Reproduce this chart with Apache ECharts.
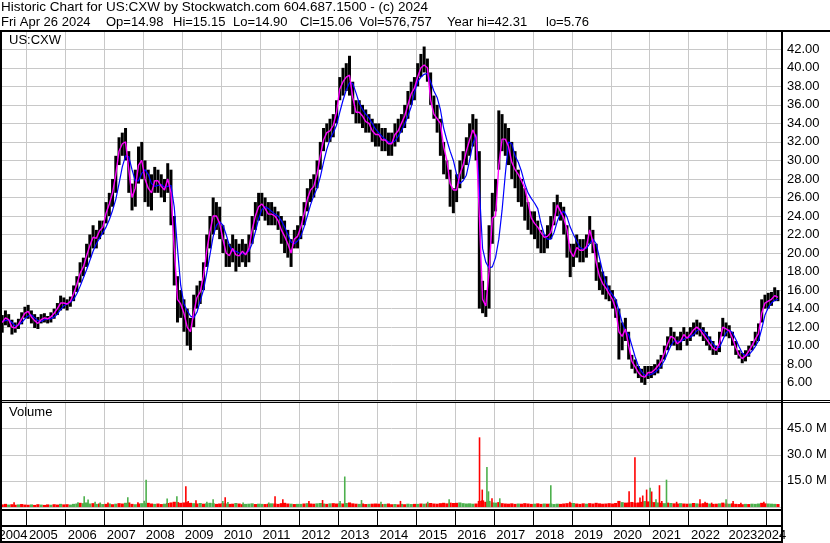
<!DOCTYPE html>
<html><head><meta charset="utf-8">
<script src="https://cdn.jsdelivr.net/npm/echarts@6/dist/echarts.min.js"></script>
<style>html,body{margin:0;padding:0;background:#fff}#c{width:830px;height:543px}</style>
</head><body><div id="c"></div>
<script>
// ---- DATA (monthly, May 2004 .. Apr 2024) ----
const startYear = 2004, startMonth = 5;
const high = [
 13.3,13.8,13.4,12.8,12.5,12.9,13.6,14.2,
 14.4,13.8,13.4,13.1,13.4,13.5,13.2,13.6,14.0,14.6,15.4,15.2,
 15.0,15.3,16.5,17.5,19.0,19.5,21.0,22.0,23.0,22.5,23.5,23.5,
 25.5,26.5,28.0,30.5,32.5,33.0,33.5,31.0,27.5,29.0,31.5,32.0,
 30.0,29.0,28.5,29.3,29.0,28.5,28.0,29.7,29.0,24.0,17.5,16.0,
 15.0,14.0,13.0,15.5,16.5,17.0,19.0,22.0,24.0,26.0,25.5,25.0,
 23.0,21.5,21.0,22.0,21.5,21.0,21.5,21.0,22.0,24.0,25.5,26.5,
 26.5,26.0,25.5,25.5,25.0,24.5,24.0,23.5,22.5,21.5,22.5,23.0,
 24.0,25.5,27.0,28.0,28.5,30.0,32.0,33.5,34.0,34.5,35.0,36.5,
 39.0,40.0,40.5,41.3,38.5,36.5,36.5,36.0,35.5,35.0,34.5,34.0,
 34.0,33.5,33.5,33.0,33.0,34.0,34.5,35.0,36.0,37.5,38.5,39.0,
 40.5,41.5,42.3,41.0,39.5,37.0,36.0,34.5,32.0,30.0,29.0,27.0,
 28.5,30.0,31.0,32.5,34.0,35.0,34.5,31.0,17.0,16.0,23.0,26.5,
 28.0,35.4,35.0,34.0,33.5,32.0,31.0,29.0,28.0,27.0,25.5,24.5,
 24.5,23.5,22.5,22.0,23.0,24.0,25.5,26.3,25.5,25.0,23.0,21.0,
 21.0,22.0,21.5,21.5,22.0,24.0,22.5,21.0,19.0,18.0,17.5,16.5,
 16.0,15.0,14.0,12.5,13.0,11.5,9.0,8.5,7.8,7.5,7.8,7.8,
 7.8,8.0,8.5,9.0,10.0,11.0,12.0,11.5,11.0,11.5,12.0,11.5,
 12.0,12.5,12.8,12.5,12.0,11.5,11.0,10.5,10.0,11.5,13.0,12.5,
 12.2,11.5,10.5,9.5,9.2,9.5,10.0,10.5,11.5,12.4,15.0,15.5,
 15.7,15.8,16.3,16.0];
const low = [
 11.4,12.2,12.0,11.2,11.4,11.8,12.3,13.0,
 12.9,12.4,11.9,11.8,12.4,12.5,12.4,12.5,12.9,13.3,13.8,14.0,
 13.8,14.2,14.8,15.8,16.8,17.5,18.5,19.5,20.5,20.5,21.5,22.0,
 23.2,24.0,25.0,26.5,29.5,30.5,30.0,26.5,24.6,25.0,27.5,28.0,
 25.5,25.0,24.6,26.5,26.5,26.0,25.5,26.5,23.0,16.5,12.5,13.0,
 11.5,10.0,9.5,12.0,14.0,14.5,16.0,18.5,20.5,22.0,22.5,21.5,
 20.0,18.5,18.5,19.0,18.0,18.5,19.0,18.5,19.0,21.0,22.5,23.5,
 24.0,23.5,23.0,23.0,23.0,22.5,21.0,20.0,19.5,18.5,20.5,20.5,
 21.5,23.0,24.5,25.5,26.0,27.0,29.0,31.0,32.0,32.0,32.5,34.0,
 36.5,37.0,37.5,37.0,35.0,34.0,34.0,33.5,33.0,33.0,32.0,31.5,
 31.5,31.0,31.0,30.5,30.5,31.5,32.0,33.0,33.5,34.5,36.0,36.5,
 38.0,39.0,39.5,38.5,36.0,34.5,33.0,30.5,28.5,28.0,25.0,24.3,
 25.5,27.0,28.0,29.5,30.5,31.5,30.0,14.0,13.5,13.1,14.0,21.0,
 24.5,29.0,31.0,30.5,29.5,28.0,27.0,25.5,25.0,23.5,22.5,22.0,
 21.5,20.5,20.0,20.0,20.5,21.5,23.0,24.0,23.5,22.0,19.5,17.4,
 18.5,19.5,19.0,19.0,19.5,21.0,20.0,17.0,16.0,15.5,15.0,14.8,
 14.0,13.0,8.5,9.5,10.5,8.5,7.5,7.0,6.5,6.0,5.76,6.4,
 6.5,6.8,7.0,7.5,8.5,9.5,10.0,10.0,9.5,9.5,10.5,10.0,
 10.5,11.0,11.2,11.0,10.5,10.0,9.5,9.0,9.0,9.3,11.0,11.0,
 10.8,10.0,9.0,8.6,8.1,8.3,8.8,9.5,10.0,10.5,12.5,14.0,
 14.0,14.3,14.8,14.8];
const maShort = [
 12.5,13.0,12.8,12.0,11.9,12.3,12.9,13.5,
 13.7,13.1,12.7,12.4,12.8,13.0,12.9,13.1,13.5,14.0,14.6,14.6,
 14.5,14.8,15.6,16.6,17.8,18.5,19.7,20.8,21.7,21.6,22.4,22.8,
 24.3,25.3,26.5,28.5,31.0,31.8,32.0,29.0,26.0,27.0,29.5,30.0,
 28.0,27.0,26.5,27.8,27.8,27.2,26.8,28.0,26.5,20.5,15.0,14.5,
 13.5,12.0,11.5,13.5,15.2,15.8,17.5,20.2,22.3,24.0,24.0,23.2,
 21.5,20.0,19.7,20.5,19.8,19.7,20.2,19.8,20.5,22.5,24.0,25.0,
 25.3,24.8,24.2,24.2,24.0,23.5,22.5,21.8,21.0,20.0,21.5,21.8,
 22.8,24.2,25.8,26.8,27.2,28.5,30.5,32.2,33.0,33.2,33.8,35.2,
 37.7,38.5,39.0,39.2,36.8,35.2,35.2,34.8,34.2,34.0,33.2,32.8,
 32.8,32.2,32.2,31.8,31.8,32.8,33.2,34.0,34.8,36.0,37.2,37.8,
 39.0,40.0,40.3,40.0,36.5,35.0,34.5,34.0,31.5,30.0,27.5,26.8,
 26.8,28.5,29.5,31.0,32.2,33.3,32.5,24.0,15.0,14.3,18.0,23.8,
 24.0,29.5,32.3,32.3,31.5,29.8,29.0,28.5,27.8,27.0,25.5,23.8,
 23.2,22.8,22.2,21.7,21.8,22.2,23.5,25.2,24.5,23.8,22.5,20.2,
 19.6,20.6,20.3,20.3,20.7,22.5,21.2,19.0,17.5,16.7,16.2,15.6,
 15.0,14.0,11.5,11.0,11.8,10.0,8.3,7.7,7.1,6.7,6.6,7.1,
 7.1,7.4,7.8,8.3,9.2,10.2,11.0,10.8,10.2,10.5,11.2,10.8,
 11.2,11.7,12.0,11.7,11.2,10.7,10.2,9.7,9.5,10.3,12.0,11.8,
 11.6,10.8,9.8,9.0,8.6,8.9,9.4,10.0,10.7,11.3,13.5,14.6,
 14.8,15.0,15.4,15.2];
const maLong = [
 12.6,12.7,12.8,12.5,12.1,12.2,12.5,12.9,
 13.2,13.3,13.0,12.7,12.6,12.8,12.9,12.9,13.1,13.4,13.9,14.3,
 14.5,14.7,15.0,15.6,16.4,17.3,18.2,19.2,20.2,21.0,21.6,22.2,
 22.8,23.6,24.6,25.8,27.5,29.3,30.5,30.4,29.0,27.8,27.8,28.6,
 29.0,28.5,27.5,27.2,27.3,27.4,27.1,27.2,27.3,25.0,20.5,16.5,
 14.5,13.8,13.2,13.0,13.6,14.8,16.0,17.8,19.8,21.8,23.0,23.4,
 23.0,22.0,20.8,20.2,20.2,20.0,19.9,20.0,20.2,21.0,22.3,23.7,
 24.7,25.0,24.8,24.5,24.2,24.0,23.5,22.8,22.0,21.2,21.0,21.3,
 21.8,22.8,24.0,25.2,26.2,27.0,28.2,29.8,31.2,32.3,33.0,33.8,
 35.2,36.5,37.6,38.4,38.3,37.3,36.2,35.5,35.0,34.6,34.0,33.4,
 33.0,32.6,32.3,32.0,31.9,32.1,32.6,33.2,33.9,34.8,35.8,37.3,
 38.5,39.0,39.3,39.4,38.5,37.5,36.8,35.5,33.5,32.2,31.0,30.0,
 28.5,27.5,27.8,28.4,30.0,31.8,32.8,27.0,20.5,19.0,18.4,18.5,
 19.5,21.5,24.6,28.5,32.0,31.8,30.5,29.8,28.8,27.5,26.5,25.9,
 25.4,24.8,23.2,22.0,21.5,21.5,22.2,23.4,24.3,24.5,23.9,22.8,
 22.0,21.3,20.6,20.4,20.5,21.0,21.5,21.0,19.5,18.0,16.8,16.0,
 15.5,15.0,13.8,12.5,11.6,11.2,10.0,8.8,7.8,7.2,6.8,6.8,
 6.9,7.1,7.4,7.8,8.4,9.2,10.0,10.5,10.5,10.4,10.7,10.9,
 10.9,11.2,11.6,11.8,11.6,11.2,10.7,10.2,9.8,9.8,10.6,11.4,
 11.7,11.4,10.7,9.9,9.2,8.9,9.0,9.4,9.9,10.5,11.8,13.3,
 14.1,14.6,14.9,15.0];
// volume in millions, monthly baseline
const volume = [
 1.5,1.8,1.4,1.6,1.3,1.5,1.7,1.4,
 1.3,1.5,1.2,1.6,1.4,1.2,1.5,1.3,1.6,1.4,1.8,1.5,
 1.6,1.4,1.8,2.0,2.4,2.2,2.6,2.0,2.2,1.8,2.0,1.7,
 1.8,2.0,1.6,1.9,2.2,2.0,2.4,2.6,1.8,1.6,2.0,2.2,
 2.2,2.4,2.0,1.8,2.0,1.7,1.9,2.3,2.6,3.0,2.8,2.4,
 2.6,2.8,2.4,2.2,2.0,2.3,1.9,2.1,2.4,2.2,1.8,2.0,
 2.2,2.0,1.8,1.9,2.3,2.0,1.6,1.8,1.9,2.1,1.7,1.9,
 1.8,1.7,1.9,2.1,2.0,1.8,2.2,2.4,2.0,1.9,1.7,1.8,
 1.8,2.0,2.2,2.0,1.9,2.1,2.3,2.0,1.8,2.1,2.2,2.0,
 2.2,2.0,2.3,2.6,2.1,1.9,1.8,2.0,1.7,1.8,1.9,2.0,
 1.9,1.7,1.8,2.0,1.6,1.7,1.5,1.8,1.6,1.9,1.7,1.8,
 1.8,2.0,1.9,2.1,2.3,2.0,1.9,2.2,2.4,2.1,2.5,2.3,
 2.4,2.6,2.2,2.0,2.1,1.9,2.0,3.5,3.8,3.0,3.5,2.6,
 2.5,2.8,2.2,2.0,1.9,2.1,1.8,2.0,1.9,2.2,2.0,1.8,
 1.9,2.1,1.8,2.0,1.9,2.0,1.7,1.9,1.8,2.0,2.2,2.4,
 2.3,2.0,1.8,2.1,1.9,2.2,2.0,2.4,2.1,1.9,2.0,2.2,
 2.0,2.3,3.5,2.8,2.5,2.6,2.9,2.4,2.6,3.0,3.4,3.2,
 3.0,2.8,2.6,2.4,2.2,2.5,2.3,2.1,2.0,2.2,2.0,1.9,
 2.0,2.3,2.1,1.9,2.2,2.4,2.0,1.8,1.9,2.1,2.5,2.0,
 1.9,2.1,1.8,1.7,1.6,1.8,1.7,1.9,1.8,2.0,2.4,2.1,
 2.0,1.9,1.8,1.7];
const volumeUp =
 "rrgrrgrr"+"rgrrgrrgrrgr"+"rgggrgggrgrg"+"rgrgrrgrrgrg"+"grrgrrgrrrrr"+
 "rrrgrgrgggrr"+"rgrrgrrgggrg"+"grrgrrrrrgrg"+"grgrrgggrgrr"+"grgrrrgrrgrr"+
 "rrgrrgrgrggr"+"grgrrrrrrrrr"+"rgggggrrrrgg"+"grrrrrrgrrrr"+"grrgrgggrrrr"+
 "grrrgrrrrrrr"+"rrrgrrrrrrgr"+"grgrgrgrrgrr"+"grgrrrgrrgrr"+"grrrrgrgggrr"+"gggr";
// single-day volume spikes (fractional year, millions, up/down)
const spikeDates = [2004.68,2006.32,2006.48,2006.58,2006.76,2006.89,2007.09,2007.60,2007.86,2008.02,
 2008.07,2008.61,2008.79,2008.86,2009.09,2009.15,2009.35,2009.63,2009.79,2010.04,2010.10,2010.17,
 2010.56,2011.22,2011.38,2011.58,2012.25,2012.60,2013.05,2013.17,2013.60,2014.10,2014.60,2015.30,
 2015.85,2016.63,2016.70,2016.82,2016.86,2016.95,2017.15,2018.46,2018.95,2020.47,2020.62,2020.75,
 2020.82,2020.92,2021.01,2021.05,2021.16,2021.25,2021.31,2021.43,2021.69,2022.29,2022.42,2022.59,
 2022.96,2023.14,2023.34,2023.93];
const spikeValues = [2.7,2.7,6.2,4.3,3.0,2.6,2.6,5.6,2.7,3.6,
 15.7,4.9,2.6,6.2,11.9,3.4,3.9,3.0,4.4,3.5,5.6,2.8,
 2.6,2.6,6.2,4.4,3.5,4.0,3.5,17.5,4.0,3.0,3.5,3.0,
 4.5,40.0,10.0,23.0,9.0,5.0,5.0,12.5,3.0,9.0,28.5,5.4,
 6.6,10.0,11.0,8.9,4.5,12.5,3.4,15.7,3.0,4.4,3.0,2.5,
 4.4,3.4,2.5,3.0];
const spikeUp = "rgggggrgrgg"+"grgrrrgggrgg"+"grrrrggggrg"+"grrggrggrrr"+"rrrgrgrrgr"+"rrrg";
const yearTicks = [2005,2006,2007,2008,2009,2010,2011,2012,2013,2014,2015,2016,2017,2018,2019,2020,2021,2022,2023,2024];
const yearLabels = ['2004','2005','2006','2007','2008','2009','2010','2011','2012','2013','2014',
 '2015','2016','2017','2018','2019','2020','2021','2022','2023','2024'];
const titleLine1 = 'Historic Chart for US:CXW by Stockwatch.com 604.687.1500 - (c) 2024';
const quoteFields = ['Fri Apr 26 2024','Op=14.98','Hi=15.15','Lo=14.90','Cl=15.06','Vol=576,757','Year hi=42.31','lo=5.76'];
const symbolName = 'US:CXW';

// ---- BUILD ----
const FONT = '"Liberation Sans", Arial, sans-serif';
const RED = '#ff0000', GREEN = '#4db04d', GRID = '#c8c8c8';
const monthT = i => startYear + (startMonth - 1 + i + 0.5) / 12;
const barData = high.map((h, i) => [monthT(i), h, low[i]]);
const maS = maShort.map((v, i) => [monthT(i), v]);
const maL = maLong.map((v, i) => [monthT(i), v]);
const volData = volume.map((v, i) => [monthT(i), v, volumeUp[i] === 'g' ? 1 : 0]);
const spkData = spikeDates.map((t, i) => [t, spikeValues[i], spikeUp[i] === 'g' ? 1 : 0]);
const X0 = 2004.37, X1 = 2024.37;
const gl = 2, gr = 49;

function hl(params, api) {
  const a = api.coord([api.value(0), api.value(1)]);
  const b = api.coord([api.value(0), api.value(2)]);
  return { type: 'rect', shape: { x: a[0] - 1.5, y: a[1], width: 3.0, height: Math.max(1, b[1] - a[1]) },
    style: { fill: '#000' } };
}
function vol(w) {
  return (params, api) => {
    const a = api.coord([api.value(0), api.value(1)]);
    const b = api.coord([api.value(0), 0]);
    return { type: 'rect', shape: { x: a[0] - w / 2, y: a[1], width: w, height: b[1] - a[1] },
      style: { fill: api.value(2) ? GREEN : RED } };
  };
}
const baseX = (gi, color) => ({
  type: 'value', gridIndex: gi, min: X0, max: X1,
  axisLine: { show: false }, axisTick: { show: false, customValues: yearTicks }, axisLabel: { show: false },
  splitLine: { show: true, lineStyle: { color: color, width: 1 } }
});
const rect = (x, y, w, h) => ({ type: 'rect', shape: { x, y, width: w, height: h }, style: { fill: '#000' }, silent: true, z: 100 });
const txt = (s, x, y, size) => ({ type: 'text', x, y, silent: true, z: 101,
  style: { text: s, fill: '#000', fontSize: size || 13, fontFamily: FONT, verticalAlign: 'top', align: 'left' } });

const chart = echarts.init(document.getElementById('c'), null, { renderer: 'canvas' });
chart.setOption({
  animation: false,
  backgroundColor: '#fff',
  grid: [
    { left: gl, right: gr, top: 30.78, bottom: 141.8 },
    { left: gl, right: gr, top: 402.5, bottom: 36 },
    { left: gl, right: gr, top: 510, bottom: 18 }
  ],
  xAxis: [ baseX(0, GRID), baseX(1, GRID), baseX(2, '#000') ],
  yAxis: [
    { type: 'value', gridIndex: 0, position: 'right', min: 4, max: 44, interval: 2,
      axisLine: { show: false }, axisTick: { show: false },
      splitLine: { show: true, lineStyle: { color: GRID, width: 1 } },
      axisLabel: { margin: 6, fontSize: 13, color: '#000', fontFamily: FONT,
        formatter: v => (v < 5 || v > 43) ? '' : v.toFixed(2) } },
    { type: 'value', gridIndex: 1, position: 'right', min: 0, max: 60, interval: 15,
      axisLine: { show: false }, axisTick: { show: false },
      splitLine: { show: true, lineStyle: { color: GRID, width: 1 } },
      axisLabel: { margin: 6, fontSize: 13, color: '#000', fontFamily: FONT,
        formatter: v => (v === 0 || v === 60) ? '' : v.toFixed(1) + ' M' } },
    { type: 'value', gridIndex: 2, min: 0, max: 1, show: false, splitLine: { show: false } }
  ],
  series: [
    { type: 'custom', xAxisIndex: 0, yAxisIndex: 0, renderItem: hl, data: barData, encode: { x: 0, y: [1, 2] }, z: 2 },
    { type: 'line', xAxisIndex: 0, yAxisIndex: 0, data: maL, showSymbol: false, symbol: 'none',
      lineStyle: { color: '#0000ff', width: 1.2 }, z: 3 },
    { type: 'line', xAxisIndex: 0, yAxisIndex: 0, data: maS, showSymbol: false, symbol: 'none',
      lineStyle: { color: '#ff00ff', width: 1.4 }, z: 4 },
    { type: 'custom', xAxisIndex: 1, yAxisIndex: 1, renderItem: vol(3.2), data: volData, encode: { x: 0, y: 1 }, z: 2 },
    { type: 'custom', xAxisIndex: 1, yAxisIndex: 1, renderItem: vol(1.6), data: spkData, encode: { x: 0, y: 1 }, z: 3 }
  ]
});

// header texts, labels and frame lines
const quoteX = [1, 106, 173, 233, 300, 359, 447, 546];
const g = [
  rect(0, 30, 830, 2), rect(0, 30, 2, 513), rect(781, 30, 2, 513),
  rect(0, 400, 830, 1), rect(0, 402, 830, 1),
  rect(0, 509, 783, 2), rect(0, 525, 783, 2), rect(0, 541, 783, 2),
  txt(titleLine1, 1, 0, 13.5),
  txt(symbolName, 9, 34), txt('Volume', 9, 406)
];
quoteFields.forEach((s, i) => g.push(txt(s, quoteX[i], 16)));
// year labels placed through the x scale of the year strip
yearLabels.forEach((y, i) => {
  const n = +y;
  let t = n + 0.06;
  if (i === 0) t = 2005 - 0.72;
  if (i === yearLabels.length - 1) t = n - 0.24;
  if (n === 2023) t = n + 0.02;
  const px = chart.convertToPixel({ xAxisIndex: 2 }, t);
  g.push(txt(y, px, 529));
});
chart.setOption({ graphic: g });
</script></body></html>
